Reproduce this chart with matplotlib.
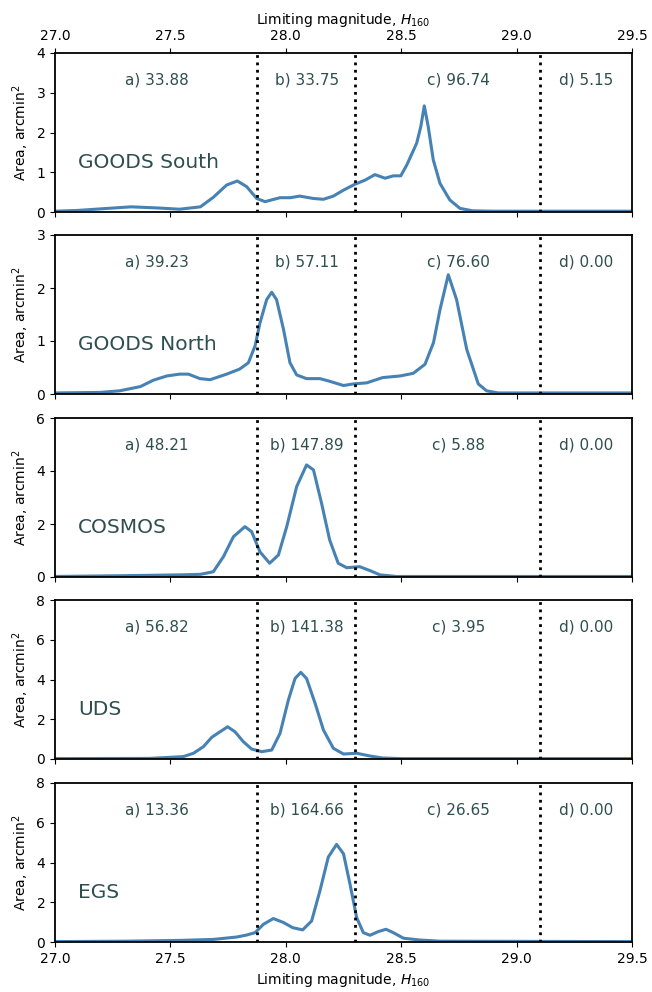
import numpy as np
import matplotlib
matplotlib.use('Agg')
import matplotlib.pyplot as plt

# area vs limiting magnitude for each CANDELS field
fields = ['GOODS South', 'GOODS North', 'COSMOS', 'UDS', 'EGS']
ymax = [4, 3, 6, 8, 8]
yticks = [[0, 1, 2, 3, 4], [0, 1, 2, 3], [0, 2, 4, 6], [0, 2, 4, 6, 8], [0, 2, 4, 6, 8]]

# summed area in each depth bin a)-d)
counts = [['33.88', '33.75', '96.74', '5.15'],
          ['39.23', '57.11', '76.60', '0.00'],
          ['48.21', '147.89', '5.88', '0.00'],
          ['56.82', '141.38', '3.95', '0.00'],
          ['13.36', '164.66', '26.65', '0.00']]
bin_edges = [27.875, 28.3, 29.1]
label_x = [27.44, 28.09, 28.75, 29.30]

gs_mag = [27.0, 27.1, 27.2, 27.33, 27.45, 27.54, 27.63, 27.686, 27.744, 27.79, 27.83,
          27.874, 27.91, 27.975, 28.02, 28.06, 28.12, 28.163, 28.206, 28.25, 28.3,
          28.343, 28.386, 28.43, 28.466, 28.498, 28.524, 28.567, 28.585, 28.6, 28.617,
          28.639, 28.668, 28.711, 28.755, 28.81, 28.9, 29.5]
gs_area = [0.02, 0.04, 0.08, 0.13, 0.1, 0.07, 0.13, 0.37, 0.68, 0.78, 0.64,
           0.34, 0.26, 0.36, 0.36, 0.4, 0.34, 0.32, 0.4, 0.55, 0.7,
           0.8, 0.94, 0.85, 0.91, 0.91, 1.18, 1.73, 2.15, 2.67, 2.15,
           1.31, 0.72, 0.3, 0.09, 0.03, 0.02, 0.02]

gn_mag = [27.0, 27.195, 27.28, 27.37, 27.426, 27.484, 27.54, 27.578, 27.628, 27.672,
          27.744, 27.8, 27.838, 27.867, 27.888, 27.917, 27.939, 27.96, 27.99, 28.018,
          28.047, 28.09, 28.148, 28.19, 28.25, 28.292, 28.35, 28.42, 28.495, 28.552,
          28.603, 28.64, 28.668, 28.704, 28.74, 28.784, 28.834, 28.87, 28.92, 29.5]
gn_area = [0.02, 0.03, 0.06, 0.14, 0.26, 0.34, 0.375, 0.375, 0.29, 0.27,
           0.375, 0.47, 0.59, 0.91, 1.34, 1.78, 1.92, 1.78, 1.22, 0.59,
           0.36, 0.29, 0.29, 0.24, 0.16, 0.19, 0.21, 0.31, 0.34, 0.39,
           0.56, 0.97, 1.59, 2.25, 1.78, 0.84, 0.19, 0.06, 0.02, 0.02]

co_mag = [27.0, 27.3, 27.54, 27.63, 27.686, 27.73, 27.773, 27.823, 27.852, 27.888,
          27.93, 27.968, 28.004, 28.047, 28.09, 28.12, 28.155, 28.19, 28.227, 28.264,
          28.32, 28.365, 28.408, 28.48, 29.5]
co_area = [0.02, 0.05, 0.08, 0.1, 0.2, 0.77, 1.52, 1.9, 1.71, 0.95,
           0.52, 0.83, 1.9, 3.41, 4.23, 4.04, 2.78, 1.4, 0.52, 0.35,
           0.39, 0.24, 0.08, 0.02, 0.02]

ud_mag = [27.0, 27.41, 27.556, 27.6, 27.643, 27.679, 27.715, 27.748, 27.78, 27.816,
          27.852, 27.896, 27.939, 27.975, 28.011, 28.04, 28.065, 28.09, 28.127, 28.163,
          28.206, 28.25, 28.307, 28.365, 28.42, 28.5, 29.5]
ud_area = [0.02, 0.03, 0.12, 0.29, 0.62, 1.09, 1.37, 1.62, 1.37, 0.87,
           0.5, 0.37, 0.45, 1.29, 2.96, 4.05, 4.36, 4.05, 2.8, 1.46,
           0.54, 0.25, 0.29, 0.15, 0.05, 0.02, 0.02]

eg_mag = [27.0, 27.3, 27.54, 27.686, 27.787, 27.83, 27.867, 27.903, 27.946, 27.99,
          28.03, 28.073, 28.112, 28.148, 28.184, 28.22, 28.25, 28.278, 28.307, 28.336,
          28.365, 28.4, 28.434, 28.466, 28.51, 28.58, 28.67, 29.5]
eg_area = [0.02, 0.04, 0.08, 0.13, 0.25, 0.35, 0.47, 0.89, 1.18, 0.98,
           0.72, 0.61, 1.06, 2.58, 4.27, 4.91, 4.44, 2.92, 1.23, 0.47,
           0.34, 0.52, 0.64, 0.47, 0.19, 0.1, 0.04, 0.02]

mags = [gs_mag, gn_mag, co_mag, ud_mag, eg_mag]
areas = [gs_area, gn_area, co_area, ud_area, eg_area]

W, H = 652, 992
fig = plt.figure(figsize=(W / 100, H / 100), dpi=100)
tops = [53, 235, 418, 600, 783]  # panel tops in pixels
panel_h = 159

txt_col = '#2F4F4F'
for i in range(5):
    ax = fig.add_axes([55 / W, 1 - (tops[i] + panel_h) / H, 577 / W, panel_h / H])
    ax.plot(mags[i], areas[i], color='#4682B4', lw=2.2, solid_joinstyle='round')
    for e in bin_edges:
        ax.axvline(e, color='k', ls=':', lw=2)
    for j, lab in enumerate('abcd'):
        ax.text(label_x[j], 0.83, lab + ') ' + counts[i][j], transform=ax.get_xaxis_transform(),
                ha='center', va='center', fontsize=11, color=txt_col)
    ax.text(0.04, 0.31, fields[i], transform=ax.transAxes, fontsize=14.5,
            color=txt_col, va='center')
    ax.set_xlim(27.0, 29.5)
    ax.set_ylim(0, ymax[i])
    ax.set_yticks(yticks[i])
    ax.set_xticks([27.0, 27.5, 28.0, 28.5, 29.0, 29.5])
    ax.set_ylabel('Area, arcmin$^2$')
    for sp in ax.spines.values():
        sp.set_linewidth(1.3)
    if i == 0:
        ax.tick_params(axis='x', top=True, labeltop=True, labelbottom=False)
        ax.xaxis.set_label_position('top')
        ax.set_xlabel('Limiting magnitude, $H_{160}$')
    elif i == 4:
        ax.set_xlabel('Limiting magnitude, $H_{160}$')
    else:
        ax.tick_params(axis='x', labelbottom=False)

fig.savefig('out.png', dpi=100)
